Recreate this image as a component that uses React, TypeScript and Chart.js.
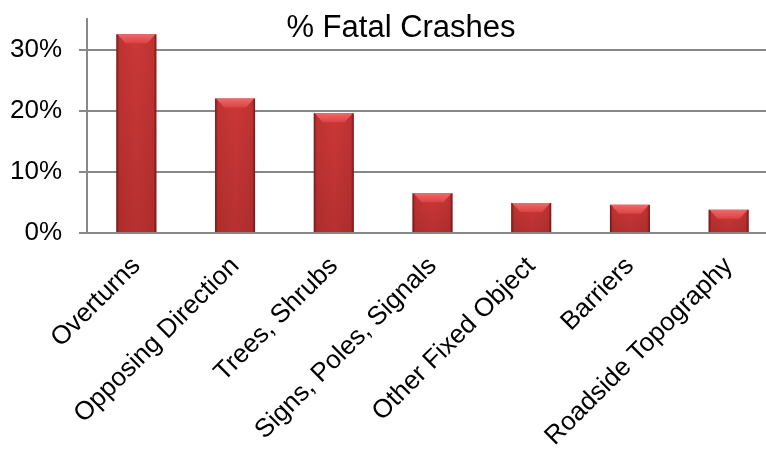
import { useEffect, useRef } from 'react';
import { Chart, registerables } from 'chart.js';

Chart.register(...registerables);

const categories = [
  'Overturns',
  'Opposing Direction',
  'Trees, Shrubs',
  'Signs, Poles, Signals',
  'Other Fixed Object',
  'Barriers',
  'Roadside Topography',
];
const fatalPct = [32.5, 22.0, 19.6, 6.5, 4.9, 4.6, 3.8];
const yTickValues = [0, 10, 20, 30];
const yMax = 35;
const titleText = '% Fatal Crashes';

const FONT = '"Liberation Sans", Arial, Helvetica, sans-serif';

export default function App() {
  const ref = useRef<HTMLCanvasElement>(null);

  useEffect(() => {
    const canvas = ref.current;
    if (!canvas) return;

    const barStyle = {
      id: 'barStyle',
      afterDatasetsDraw(chart: any) {
        const ctx = chart.ctx;
        const meta = chart.getDatasetMeta(0);
        meta.data.forEach((bar: any) => {
          const { x, y, base, width } = bar.getProps(['x', 'y', 'base', 'width'], true);
          const l = x - width / 2;
          const r = x + width / 2;
          const h = base - y;
          ctx.save();
          const v = ctx.createLinearGradient(0, y, 0, base);
          v.addColorStop(0, 'rgba(40,0,0,0)');
          v.addColorStop(1, 'rgba(40,0,0,0.12)');
          ctx.fillStyle = v;
          ctx.fillRect(l, y, width, h);
          const g = ctx.createLinearGradient(l, 0, r, 0);
          g.addColorStop(0, 'rgba(60,0,0,0.6)');
          g.addColorStop(0.07, 'rgba(60,0,0,0.08)');
          g.addColorStop(0.5, 'rgba(60,0,0,0)');
          g.addColorStop(0.93, 'rgba(60,0,0,0.08)');
          g.addColorStop(1, 'rgba(60,0,0,0.6)');
          ctx.fillStyle = g;
          ctx.fillRect(l, y, width, h);
          const b = Math.min(9, h / 2);
          ctx.beginPath();
          ctx.moveTo(l + 1, y);
          ctx.lineTo(r - 1, y);
          ctx.lineTo(r - b, y + b);
          ctx.lineTo(l + b, y + b);
          ctx.closePath();
          const tg = ctx.createLinearGradient(0, y, 0, y + b);
          tg.addColorStop(0, '#ee6a6a');
          tg.addColorStop(1, '#dc4242');
          ctx.fillStyle = tg;
          ctx.fill();
          ctx.restore();
        });
      },
    };

    const titlePlugin = {
      id: 'innerTitle',
      afterDraw(chart: any) {
        const ctx = chart.ctx;
        const area = chart.chartArea;
        ctx.save();
        ctx.font = `31px ${FONT}`;
        ctx.fillStyle = '#000';
        ctx.textAlign = 'center';
        ctx.textBaseline = 'alphabetic';
        ctx.fillText(titleText, area.left + 314, area.top + 18);
        ctx.restore();
      },
    };

    const chart = new Chart(canvas, {
      type: 'bar',
      data: {
        labels: categories,
        datasets: [
          {
            data: fatalPct,
            backgroundColor: '#cb3737',
            borderWidth: 0,
            barPercentage: 0.405,
            categoryPercentage: 1,
          },
        ],
      },
      options: {
        animation: false,
        responsive: false,
        devicePixelRatio: 1,
        layout: { padding: { top: 19, right: 12, left: 0, bottom: 0 } },
        plugins: {
          legend: { display: false },
          tooltip: { enabled: false },
          title: { display: false },
        },
        scales: {
          x: {
            grid: { display: false, drawTicks: false, tickLength: 0 },
            border: { display: false },
            ticks: {
              autoSkip: false,
              minRotation: 45,
              maxRotation: 45,
              padding: 18,
              color: '#000',
              font: { family: FONT, size: 26 },
            },
            afterFit(scale: any) {
              scale.height = 216;
              scale.paddingLeft = 0;
              scale.paddingRight = 0;
            },
          },
          y: {
            min: 0,
            max: yMax,
            afterBuildTicks(scale: any) {
              scale.ticks = yTickValues.map((v) => ({ value: v }));
            },
            grid: { color: '#888888', lineWidth: 2, tickLength: 8 },
            border: { display: true, color: '#888888', width: 2 },
            ticks: {
              padding: 17,
              color: '#000',
              font: { family: FONT, size: 26 },
              callback: (v: any) => `${v}%`,
            },
            afterFit(scale: any) {
              scale.width = 87;
              scale.paddingTop = 0;
              scale.paddingBottom = 0;
            },
          },
        },
      },
      plugins: [barStyle, titlePlugin],
    });

    return () => chart.destroy();
  }, []);

  return (
    <div
      style={{
        position: 'fixed',
        left: 0,
        top: 0,
        width: 766,
        height: 449,
        overflow: 'hidden',
        background: '#fff',
      }}
    >
      <canvas ref={ref} width={790} height={449} style={{ display: 'block' }} />
    </div>
  );
}
